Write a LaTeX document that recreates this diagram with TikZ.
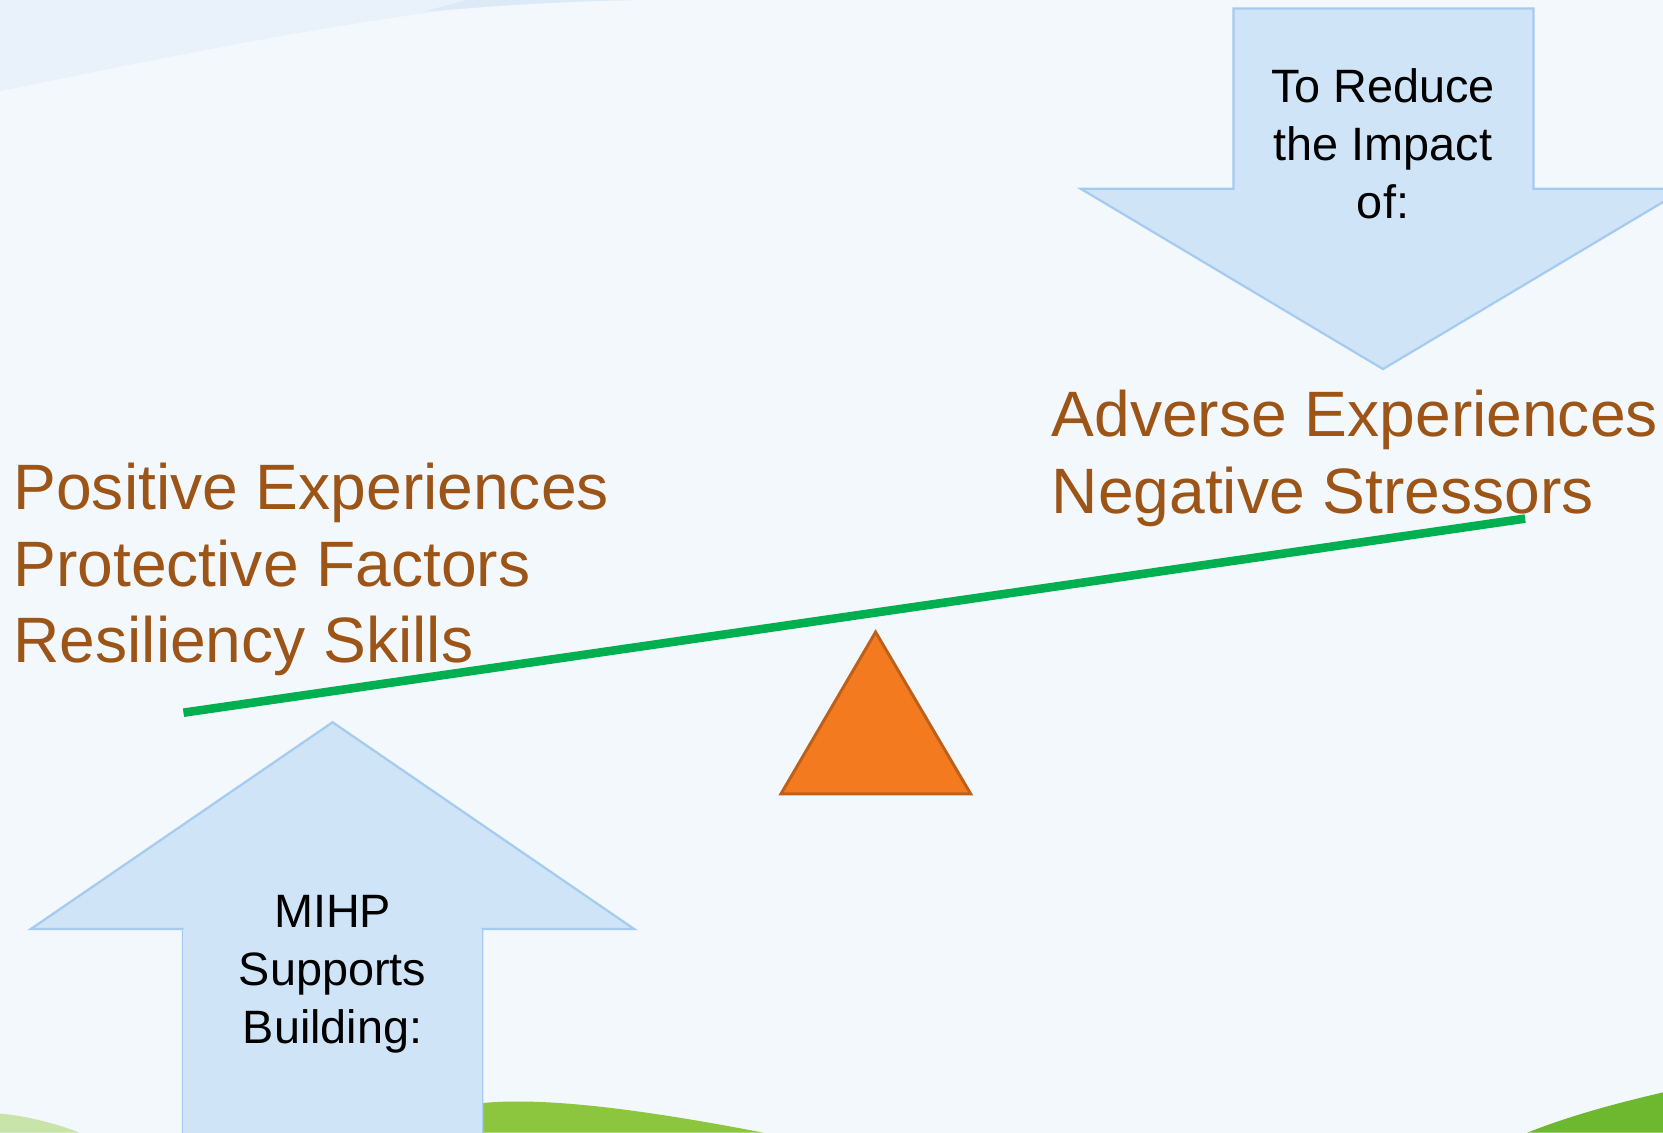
\documentclass[tikz,border=0pt]{standalone}
\usepackage{fontspec}
\setmainfont{Liberation Sans}
\definecolor{bgc}{HTML}{F3F8FC}
\definecolor{swoosh}{HTML}{E9F1FB}
\definecolor{swoosh2}{HTML}{DCEAF8}
\definecolor{arrowfill}{HTML}{CFE4F7}
\definecolor{arrowline}{HTML}{A6CBF0}
\definecolor{brown}{HTML}{9C5517}
\definecolor{beam}{HTML}{00B050}
\definecolor{fulcfill}{HTML}{F37A1E}
\definecolor{fulcline}{HTML}{BF601A}
\definecolor{grassA}{HTML}{8CC63F}
\definecolor{grassB}{HTML}{6DB82E}
\definecolor{grassL}{HTML}{C9E4A8}
\tikzset{
  bigarrow/.style={fill=arrowfill, draw=arrowline, line width=0.6pt, line join=miter},
  blacktext/.style={inner sep=0pt, align=center, font=\fontsize{12.55}{15.5}\selectfont, text=black},
  browntext/.style={inner sep=0pt, align=left, font=\fontsize{17.2}{20.5}\selectfont, text=brown},
}
\begin{document}
\begin{tikzpicture}[x=0.01cm, y=-0.01cm]
\useasboundingbox (0,0) rectangle (1568,1068);
% background
\fill[bgc] (0,0) rectangle (1568,1068);
% top-left swoosh
\fill[swoosh] (0,0) -- (0,86) .. controls (150,55) and (300,25) .. (420,10) .. controls (480,4) and (550,1) .. (600,0) -- cycle;
\fill[swoosh2] (400,11) .. controls (470,5) and (540,1) .. (600,0) -- (440,0) .. controls (425,4) .. (400,11) -- cycle;
% grass
\fill[grassL] (0,1050) .. controls (25,1052) and (55,1060) .. (75,1068) -- (0,1068) -- cycle;
\fill[grassA] (440,1068) -- (440,1042) .. controls (500,1032) and (600,1045) .. (720,1068) -- cycle;
\fill[grassB] (1440,1068) .. controls (1480,1052) and (1525,1040) .. (1568,1030) -- (1568,1068) -- cycle;
% down arrow (top right)
\draw[bigarrow] (1163,8) -- (1446,8) -- (1446,178) -- (1589,178) -- (1304,348) -- (1019,178) -- (1163,178) -- cycle;
% up arrow (bottom left)
\draw[bigarrow] (172.6,1075) -- (172.6,876) -- (29,876) -- (313.6,681) -- (598,876) -- (454.6,876) -- (454.6,1075);
\fill[arrowfill] (173,876) rectangle (454.2,1070);
% beam
\coordinate (beamL) at (173,672);
\coordinate (beamR) at (1438,489);
\draw[beam, line width=2.3pt] (beamL) -- (beamR);
% fulcrum
\draw[fill=fulcfill, draw=fulcline, line width=0.8pt, line join=miter] (825.6,596) -- (915.2,748.5) -- (736.4,748.5) -- cycle;
% texts (base anchor = baseline of the last line)
\node[blacktext, anchor=base] (reduce) at (1304,206) {To Reduce\\the Impact\\of:};
\node[blacktext, anchor=base] (mihp) at (313.6,984) {MIHP\\Supports\\Building:};
\node[browntext, anchor=base west] (pos) at (12,625) {Positive Experiences\\Protective Factors\\Resiliency Skills};
\node[browntext, anchor=base west] (adv) at (991,484) {Adverse Experiences\\Negative Stressors};
\end{tikzpicture}
\end{document}
